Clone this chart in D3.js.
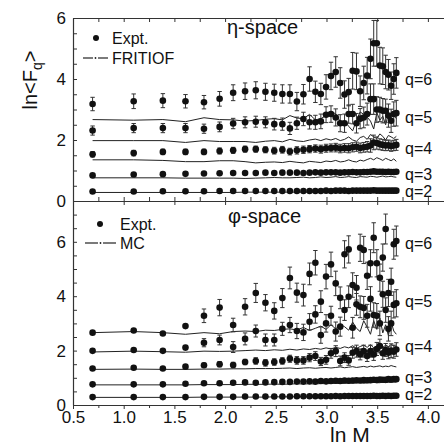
<!DOCTYPE html>
<html>
<head>
<meta charset="utf-8">
<script src="https://cdn.jsdelivr.net/npm/d3@7"></script>
<style>
  body { margin: 0; background: #fff; }
  svg { display: block; }
  text { font-family: "Liberation Sans", Arial, sans-serif; fill: #111; }
</style>
</head>
<body>
<svg id="chart"></svg>
<script>
// bin numbers M, plotted as ln M
const mValues = [2,3,4,5,6,7,8,9,10,11, 12,13,14,15,16,17,18,19,20,21, 22,23,24,25,26,27,28,29,30,31, 32,33,34,35,36,37,38,39,40];

// eta-space: experiment, errors, FRITIOF
const etaExptQ2 = [0.31,0.31,0.32,0.32,0.32,0.33,0.33,0.33,0.33,0.33, 0.33,0.33,0.33,0.33,0.33,0.33,0.33,0.33,0.34,0.33, 0.34,0.34,0.34,0.33,0.34,0.34,0.34,0.34,0.34,0.34, 0.35,0.34,0.34,0.34,0.34,0.34,0.34,0.34,0.34];
const etaErrQ2 = [0.01,0.01,0.01,0.01,0.01,0.01,0.01,0.01,0.01,0.01, 0.01,0.01,0.01,0.01,0.01,0.01,0.01,0.01,0.01,0.01, 0.02,0.02,0.02,0.02,0.02,0.02,0.02,0.02,0.02,0.02, 0.02,0.02,0.02,0.02,0.02,0.02,0.02,0.02,0.02];
const etaFritiofQ2 = [0.28,0.28,0.28,0.28,0.28,0.28,0.28,0.29,0.29,0.29, 0.29,0.29,0.29,0.29,0.29,0.29,0.29,0.29,0.30,0.29, 0.30,0.29,0.30,0.30,0.29,0.30,0.30,0.30,0.30,0.30, 0.30,0.30,0.31,0.30,0.30,0.31,0.30,0.30,0.30];

const etaExptQ3 = [0.84,0.87,0.88,0.89,0.90,0.91,0.92,0.92,0.92,0.93, 0.92,0.93,0.93,0.93,0.92,0.93,0.94,0.93,0.94,0.94, 0.94,0.93,0.94,0.94,0.95,0.94,0.94,0.95,0.95,0.96, 0.97,0.96,0.96,0.96,0.95,0.96,0.95,0.95,0.96];
const etaErrQ3 = [0.03,0.03,0.03,0.03,0.03,0.03,0.03,0.03,0.03,0.03, 0.04,0.04,0.04,0.04,0.04,0.04,0.04,0.04,0.04,0.04, 0.05,0.05,0.05,0.05,0.05,0.05,0.05,0.05,0.05,0.06, 0.06,0.06,0.06,0.06,0.06,0.06,0.06,0.06,0.06];
const etaFritiofQ3 = [0.76,0.76,0.76,0.75,0.75,0.75,0.75,0.74,0.75,0.76, 0.77,0.76,0.76,0.77,0.78,0.76,0.77,0.79,0.77,0.78, 0.80,0.77,0.78,0.80,0.78,0.77,0.80,0.79,0.78,0.81, 0.80,0.78,0.80,0.82,0.79,0.80,0.81,0.79,0.78];

const etaExptQ4 = [1.53,1.57,1.61,1.61,1.61,1.64,1.66,1.70,1.70,1.68, 1.65,1.68,1.62,1.66,1.68,1.70,1.72,1.70,1.73,1.74, 1.75,1.72,1.74,1.73,1.76,1.78,1.74,1.76,1.78,1.82, 1.92,1.90,1.86,1.84,1.82,1.83,1.80,1.82,1.84];
const etaErrQ4 = [0.09,0.09,0.09,0.09,0.09,0.10,0.10,0.10,0.10,0.10, 0.11,0.11,0.11,0.12,0.12,0.12,0.12,0.13,0.13,0.13, 0.14,0.14,0.14,0.15,0.15,0.15,0.16,0.16,0.17,0.22, 0.24,0.20,0.18,0.18,0.17,0.17,0.17,0.17,0.18];
const etaFritiofQ4 = [1.35,1.35,1.33,1.29,1.29,1.32,1.32,1.29,1.25,1.27, 1.28,1.26,1.30,1.27,1.25,1.30,1.28,1.26,1.31,1.29, 1.33,1.28,1.30,1.35,1.30,1.28,1.34,1.31,1.36,1.40, 1.35,1.42,1.38,1.33,1.40,1.36,1.32,1.38,1.30];

const etaExptQ5 = [2.31,2.39,2.39,2.39,2.37,2.43,2.54,2.58,2.60,2.58, 2.52,2.52,2.38,2.55,2.69,2.58,2.58,2.61,2.83,2.85, 2.74,2.55,2.55,2.85,2.85,2.55,2.70,2.74,2.85,3.34, 3.34,3.00,3.00,2.96,2.96,2.80,2.63,2.85,2.88];
const etaErrQ5 = [0.15,0.15,0.15,0.15,0.15,0.16,0.17,0.18,0.18,0.18, 0.19,0.20,0.20,0.20,0.22,0.22,0.23,0.24,0.26,0.27, 0.28,0.28,0.30,0.30,0.32,0.32,0.33,0.34,0.36,0.50, 0.50,0.42,0.40,0.40,0.38,0.38,0.38,0.40,0.42];
const etaFritiofQ5 = [1.98,1.98,1.98,1.92,1.98,1.95,1.95,1.95,1.92,1.96, 1.98,1.94,2.02,1.97,1.95,2.00,2.03,1.98,2.04,2.00, 2.05,1.98,2.02,2.10,2.00,1.96,2.08,2.12,2.02,2.18, 2.10,2.05,2.20,2.12,2.00,2.15,2.10,2.05,2.12];

const etaExptQ6 = [3.18,3.27,3.29,3.27,3.24,3.35,3.55,3.60,3.63,3.58, 3.55,3.51,3.51,3.26,3.50,4.00,3.58,3.51,3.74,4.10, 4.23,3.87,3.49,3.57,4.27,4.25,3.60,3.87,4.11,4.66, 5.17,5.17,4.44,4.42,4.23,4.14,3.78,4.00,4.20];
const etaErrQ6 = [0.22,0.24,0.23,0.22,0.22,0.24,0.26,0.27,0.28,0.28, 0.28,0.30,0.30,0.30,0.32,0.40,0.35,0.35,0.40,0.45, 0.50,0.50,0.45,0.45,0.60,0.60,0.50,0.55,0.60,0.65, 0.75,0.75,0.60,0.60,0.55,0.50,0.45,0.50,0.50];
const etaFritiofQ6 = [2.67,2.65,2.67,2.60,2.73,2.67,2.66,2.62,2.64,2.68, 2.70,2.66,2.80,2.72,2.70,2.84,2.66,2.70,2.80,2.93, 2.86,2.60,2.62,2.45,2.30,2.65,2.92,2.84,2.75,2.62, 2.36,2.90,2.65,2.78,2.50,2.86,2.74,2.80,2.70];

// phi-space: experiment, errors, MC
const phiExptQ2 = [0.29,0.29,0.29,0.29,0.30,0.30,0.30,0.31,0.31,0.31, 0.31,0.31,0.31,0.32,0.32,0.32,0.32,0.32,0.32,0.32, 0.33,0.32,0.33,0.33,0.33,0.33,0.33,0.33,0.33,0.33, 0.34,0.33,0.33,0.34,0.33,0.34,0.33,0.34,0.34];
const phiErrQ2 = [0.01,0.01,0.01,0.01,0.01,0.01,0.01,0.01,0.01,0.01, 0.01,0.01,0.01,0.01,0.01,0.01,0.01,0.01,0.01,0.01, 0.02,0.02,0.02,0.02,0.02,0.02,0.02,0.02,0.02,0.02, 0.02,0.02,0.02,0.02,0.02,0.02,0.02,0.02,0.02];
const phiMcQ2 = [0.28,0.28,0.28,0.28,0.29,0.29,0.29,0.29,0.29,0.29, 0.30,0.30,0.30,0.30,0.30,0.30,0.30,0.30,0.31,0.30, 0.31,0.31,0.30,0.31,0.31,0.31,0.31,0.31,0.31,0.32, 0.31,0.31,0.32,0.31,0.32,0.32,0.31,0.32,0.32];

const phiExptQ3 = [0.76,0.76,0.76,0.78,0.80,0.80,0.82,0.83,0.82,0.83, 0.84,0.85,0.85,0.86,0.86,0.87,0.86,0.88,0.87,0.88, 0.89,0.88,0.90,0.89,0.90,0.91,0.90,0.92,0.91,0.92, 0.93,0.92,0.94,0.93,0.93,0.95,0.94,0.95,0.95];
const phiErrQ3 = [0.02,0.02,0.02,0.02,0.03,0.03,0.03,0.03,0.03,0.03, 0.03,0.03,0.04,0.04,0.04,0.04,0.04,0.04,0.04,0.04, 0.05,0.05,0.05,0.05,0.05,0.05,0.05,0.05,0.05,0.05, 0.06,0.06,0.06,0.06,0.06,0.06,0.06,0.06,0.06];
const phiMcQ3 = [0.74,0.74,0.74,0.74,0.75,0.75,0.75,0.76,0.76,0.76, 0.77,0.76,0.77,0.78,0.77,0.78,0.77,0.79,0.78,0.79, 0.80,0.79,0.80,0.81,0.80,0.81,0.82,0.80,0.82,0.81, 0.83,0.82,0.82,0.84,0.82,0.84,0.83,0.85,0.84];

const phiExptQ4 = [1.34,1.37,1.34,1.41,1.46,1.50,1.47,1.58,1.62,1.55, 1.58,1.62,1.70,1.64,1.64,1.74,1.80,1.60,1.66,1.90, 1.98,1.62,1.74,1.64,1.92,1.98,1.86,1.98,1.80,1.98, 1.86,2.06,2.17,1.90,2.02,1.92,2.00,1.96,2.04];
const phiErrQ4 = [0.03,0.03,0.03,0.06,0.08,0.10,0.10,0.10,0.12,0.12, 0.12,0.12,0.13,0.14,0.14,0.15,0.16,0.15,0.16,0.18, 0.20,0.18,0.18,0.18,0.20,0.22,0.20,0.22,0.20,0.22, 0.22,0.24,0.25,0.22,0.24,0.22,0.25,0.24,0.25];
const phiMcQ4 = [1.31,1.32,1.31,1.31,1.32,1.32,1.33,1.33,1.34,1.34, 1.34,1.35,1.36,1.34,1.36,1.37,1.35,1.37,1.38,1.36, 1.38,1.40,1.37,1.39,1.41,1.38,1.40,1.42,1.39,1.43, 1.40,1.42,1.44,1.40,1.43,1.41,1.45,1.42,1.40];

const phiExptQ5 = [1.99,2.02,1.99,2.11,2.29,2.39,2.13,2.43,2.72,2.39, 2.39,2.80,2.94,2.72,2.67,3.06,3.33,2.57,3.00,3.28, 2.70,2.88,3.49,3.98,2.84,3.70,3.61,3.57,3.28,3.90, 3.31,3.28,3.00,4.07,3.49,2.80,3.00,3.68,3.74];
const phiErrQ5 = [0.04,0.04,0.04,0.08,0.15,0.18,0.20,0.22,0.22,0.22, 0.22,0.24,0.28,0.28,0.30,0.30,0.32,0.30,0.32,0.35, 0.35,0.35,0.38,0.40,0.38,0.40,0.40,0.42,0.42,0.45, 0.45,0.45,0.45,0.48,0.45,0.45,0.45,0.48,0.50];
const phiMcQ5 = [1.95,1.98,1.96,1.94,1.98,1.97,1.98,2.00,2.02,2.00, 2.03,2.01,2.05,2.02,2.06,2.04,2.08,2.05,2.10,2.06, 2.12,2.08,2.14,2.10,2.18,2.08,2.15,2.20,2.12,2.22, 2.10,2.18,2.25,2.12,2.20,2.15,2.22,2.18,2.15];

const phiExptQ6 = [2.66,2.74,2.63,2.90,3.28,3.58,2.94,3.61,4.12,3.76, 3.46,3.93,4.67,4.13,4.04,4.82,5.23,3.80,4.72,5.17, 4.47,3.94,5.54,5.72,4.41,4.31,5.78,5.70,4.75,5.21, 6.15,5.21,4.68,5.42,6.47,4.12,4.53,5.91,6.03];
const phiErrQ6 = [0.04,0.04,0.04,0.06,0.25,0.30,0.25,0.30,0.35,0.30, 0.30,0.35,0.40,0.35,0.40,0.40,0.45,0.40,0.45,0.45, 0.45,0.40,0.50,0.50,0.45,0.45,0.50,0.50,0.50,0.50, 0.55,0.50,0.50,0.50,0.55,0.50,0.50,0.55,0.55];
const phiMcQ6 = [2.66,2.70,2.66,2.60,2.66,2.62,2.70,2.72,2.70,2.75, 2.74,2.78,2.80,2.76,2.85,2.74,2.82,2.90,2.78,2.95, 2.80,2.96,2.88,2.75,3.05,2.82,2.70,3.10,2.86,2.60, 3.10,2.78,3.20,2.65,2.95,2.55,3.05,2.72,2.60];

const qOrders = [2, 3, 4, 5, 6];

const w = 444;
const h = 446;

const svg = d3.select('#chart')
    .attr('width', w)
    .attr('height', h);

const scaleX = d3.scaleLinear().domain([0.5, 4.159]).range([73, 444]);

const panels = [
    {
        title: 'η-space',
        model: 'FRITIOF',
        scaleY: d3.scaleLinear().domain([0, 6]).range([201, 18]),
        expt: [etaExptQ2, etaExptQ3, etaExptQ4, etaExptQ5, etaExptQ6],
        err: [etaErrQ2, etaErrQ3, etaErrQ4, etaErrQ5, etaErrQ6],
        curve: [etaFritiofQ2, etaFritiofQ3, etaFritiofQ4, etaFritiofQ5, etaFritiofQ6],
        qLabelX: 405,
        qLabelY: [197, 180, 154, 123, 85],
        titlePos: [227, 34],
        legendDot: [96, 38],
        legendLineY: 58,
        legendLineX: [83, 108],
        legendTextX: 112
    },
    {
        title: 'φ-space',
        model: 'MC',
        scaleY: d3.scaleLinear().domain([0, 7.5]).range([405, 201]),
        expt: [phiExptQ2, phiExptQ3, phiExptQ4, phiExptQ5, phiExptQ6],
        err: [phiErrQ2, phiErrQ3, phiErrQ4, phiErrQ5, phiErrQ6],
        curve: [phiMcQ2, phiMcQ3, phiMcQ4, phiMcQ5, phiMcQ6],
        qLabelX: 405,
        qLabelY: [400, 383, 352, 307, 249],
        titlePos: [228, 223],
        legendDot: [100, 224],
        legendLineY: 243,
        legendLineX: [85, 116],
        legendTextX: 120
    }
];

const lnM = mValues.map(m => Math.log(m));

const styleAxis = g => {
    g.select('.domain').attr('stroke', '#333').attr('stroke-width', 1.2);
    g.selectAll('.tick line').attr('stroke', '#333');
    g.selectAll('text').attr('font-size', 17).attr('fill', '#111')
        .attr('font-family', '"Liberation Sans", Arial, sans-serif');
};

panels.forEach((p, pi) => {

    const scaleY = p.scaleY;
    const yTop = scaleY.range()[1];
    const yBottom = scaleY.range()[0];

    // left axis, ticks inward
    const yAxis = d3.axisLeft(scaleY)
        .tickValues(d3.range(0, scaleY.domain()[1] + 0.01, 0.5))
        .tickSize(-4)
        .tickSizeOuter(0)
        .tickPadding(7)
        .tickFormat(d => (d % 2 === 0 && d <= 6) ? d3.format('d')(d) : '');

    svg.append('g')
        .attr('transform', `translate(${scaleX.range()[0]}, 0)`)
        .call(yAxis)
        .call(styleAxis);

    // model curves
    const line = d3.line()
        .x((d, i) => scaleX(lnM[i]))
        .y(d => scaleY(d));

    p.curve.forEach(series => {
        svg.append('path')
            .datum(series)
            .attr('d', line)
            .attr('fill', 'none')
            .attr('stroke', '#222')
            .attr('stroke-width', 1);
    });

    // experimental points with error bars
    p.expt.forEach((series, si) => {
        const errs = p.err[si];
        const g = svg.append('g').attr('class', `expt-q${qOrders[si]}`);

        g.selectAll('line.bar')
            .data(series)
            .enter().append('line')
            .attr('class', 'bar')
            .attr('x1', (d, i) => scaleX(lnM[i]))
            .attr('x2', (d, i) => scaleX(lnM[i]))
            .attr('y1', (d, i) => scaleY(d - errs[i]))
            .attr('y2', (d, i) => scaleY(d + errs[i]))
            .attr('stroke', '#333')
            .attr('stroke-width', 1);

        ['cap-lo', 'cap-hi'].forEach((cls, ci) => {
            g.selectAll(`line.${cls}`)
                .data(series)
                .enter().append('line')
                .attr('class', cls)
                .attr('x1', (d, i) => scaleX(lnM[i]) - 2.2)
                .attr('x2', (d, i) => scaleX(lnM[i]) + 2.2)
                .attr('y1', (d, i) => scaleY(ci ? d + errs[i] : d - errs[i]))
                .attr('y2', (d, i) => scaleY(ci ? d + errs[i] : d - errs[i]))
                .attr('stroke', '#333')
                .attr('stroke-width', 1);
        });

        g.selectAll('circle')
            .data(series)
            .enter().append('circle')
            .attr('cx', (d, i) => scaleX(lnM[i]))
            .attr('cy', d => scaleY(d))
            .attr('r', 3.3)
            .attr('fill', '#111');
    });

    // q labels
    qOrders.forEach((q, i) => {
        svg.append('text')
            .attr('x', p.qLabelX)
            .attr('y', p.qLabelY[i])
            .attr('font-size', 16)
            .text(`q=${q}`);
    });

    // panel title
    svg.append('text')
        .attr('x', p.titlePos[0])
        .attr('y', p.titlePos[1])
        .attr('font-size', 20)
        .text(p.title);

    // legend
    svg.append('circle')
        .attr('cx', p.legendDot[0])
        .attr('cy', p.legendDot[1])
        .attr('r', 3)
        .attr('fill', '#111');
    svg.append('text')
        .attr('x', p.legendTextX)
        .attr('y', p.legendDot[1] + 6)
        .attr('font-size', 16)
        .text('Expt.');

    const lx = p.legendLineX;
    const mid = (lx[0] + lx[1]) / 2;
    svg.append('line')
        .attr('x1', lx[0]).attr('x2', mid - 2.5)
        .attr('y1', p.legendLineY).attr('y2', p.legendLineY)
        .attr('stroke', '#222').attr('stroke-width', 1.2);
    svg.append('line')
        .attr('x1', mid + 2.5).attr('x2', lx[1])
        .attr('y1', p.legendLineY).attr('y2', p.legendLineY)
        .attr('stroke', '#222').attr('stroke-width', 1.2);
    svg.append('circle')
        .attr('cx', mid).attr('cy', p.legendLineY)
        .attr('r', 0.9).attr('fill', '#222');
    svg.append('text')
        .attr('x', p.legendTextX)
        .attr('y', p.legendLineY + 6)
        .attr('font-size', 16)
        .text(p.model);

    if (pi === 0) {
        // top frame, ticks pointing down
        svg.append('g')
            .attr('transform', `translate(0, ${yTop})`)
            .call(d3.axisTop(scaleX).tickValues(d3.range(0.5, 4.16, 0.25)).tickSize(-4).tickSizeOuter(0).tickFormat(''))
            .call(styleAxis);
        // bottom line of top panel: all ticks up, majors also down
        svg.append('g')
            .attr('transform', `translate(0, ${yBottom})`)
            .call(d3.axisBottom(scaleX).tickValues(d3.range(0.5, 4.16, 0.25)).tickSize(-4).tickSizeOuter(0).tickFormat(''))
            .call(styleAxis);
        svg.append('g')
            .attr('transform', `translate(0, ${yBottom})`)
            .call(d3.axisBottom(scaleX).tickValues(d3.range(0.5, 4.16, 0.5)).tickSize(4).tickSizeOuter(0).tickFormat(''))
            .call(styleAxis);
    } else {
        // minor ticks
        svg.append('g')
            .attr('transform', `translate(0, ${yBottom})`)
            .call(d3.axisBottom(scaleX).tickValues(d3.range(0.75, 4.16, 0.5)).tickSize(3).tickSizeOuter(0).tickFormat(''))
            .call(styleAxis);
        svg.append('g')
            .attr('transform', `translate(0, ${yBottom})`)
            .call(d3.axisBottom(scaleX).tickValues(d3.range(0.5, 4.01, 0.5)).tickSize(4).tickSizeOuter(0).tickPadding(2).tickFormat(d3.format('.1f')))
            .call(styleAxis);
    }
});

// axis titles
svg.append('text')
    .attr('x', 330)
    .attr('y', 442)
    .attr('font-size', 21)
    .text('ln M');

const yTitle = svg.append('text')
    .attr('transform', 'translate(37, 80) rotate(-90)')
    .attr('text-anchor', 'middle')
    .attr('font-size', 20);
yTitle.append('tspan').text('ln<F');
yTitle.append('tspan').attr('font-size', 14).attr('dy', 5).text('q');
yTitle.append('tspan').attr('dy', -5).text('>');
</script>
</body>
</html>
